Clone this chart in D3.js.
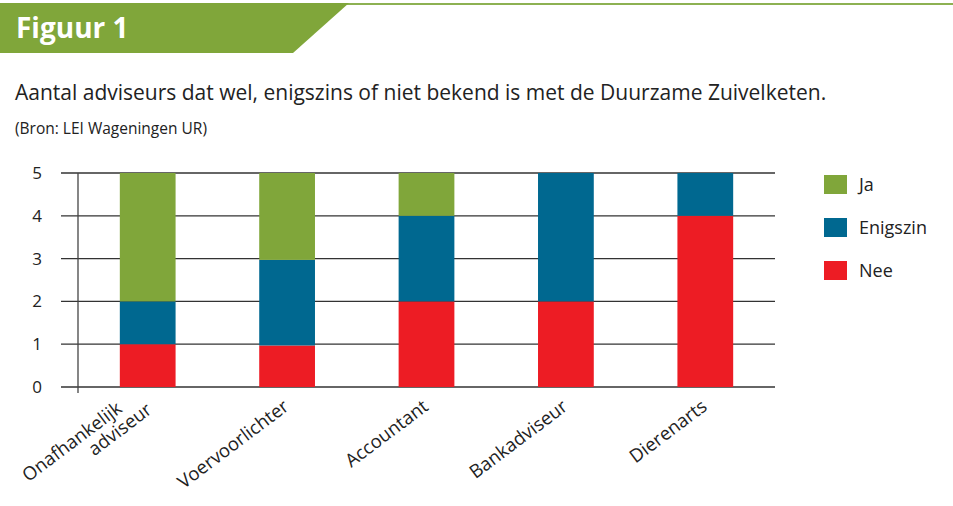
<!DOCTYPE html>
<html><head><meta charset="utf-8">
<script src="https://cdn.jsdelivr.net/npm/d3@7"></script>
<style>body{margin:0;background:#fff}svg{display:block}</style>
</head><body>
<svg id="c" width="953" height="506"></svg>
<script>
const categories = [["Onafhankelijk", "adviseur"], ["Voervoorlichter"], ["Accountant"], ["Bankadviseur"], ["Dierenarts"]];
const nee = [1, 0.97, 2, 2, 4];
const enigszin = [1, 2, 2, 3, 1];
const ja = [3, 2.03, 1, 0, 0];
const seriesNames = ["Nee", "Enigszin", "Ja"];
const legendOrder = ["Ja", "Enigszin", "Nee"];
const yTicks = [0, 1, 2, 3, 4, 5];
const colors = {Nee: "#ED1C24", Enigszin: "#006890", Ja: "#80A63A"};
const font = "'Open Sans', sans-serif";

const svg = d3.select("#c");
// banner
svg.append("line").attr("x1", 340).attr("x2", 953).attr("y1", 4).attr("y2", 4)
  .attr("stroke", "#8DB152").attr("stroke-width", 2);
svg.append("path").attr("d", "M0,3 L349,3 L293,53 L0,53 Z").attr("fill", "#80A63A");
svg.append("text").attr("x", 16).attr("y", 38).text("Figuur 1")
  .attr("font-family", font).attr("font-weight", "bold").attr("font-size", 28).attr("fill", "#fff");
svg.append("text").attr("x", 15).attr("y", 100)
  .text("Aantal adviseurs dat wel, enigszins of niet bekend is met de Duurzame Zuivelketen.")
  .attr("font-family", font).attr("font-size", 21).attr("fill", "#222");
svg.append("text").attr("x", 15).attr("y", 134).text("(Bron: LEI Wageningen UR)")
  .attr("font-family", font).attr("font-size", 15.5).attr("fill", "#222");

const x = d3.scaleBand().domain(d3.range(categories.length)).range([78, 775]).paddingInner(0.6).paddingOuter(0.3);
const y = d3.scaleLinear().domain([0, 5]).range([387, 173]);

const rows = categories.map((c, i) => ({i, Nee: nee[i], Enigszin: enigszin[i], Ja: ja[i]}));
const stack = d3.stack().keys(seriesNames)(rows);

// grid
const g = svg.append("g");
g.selectAll("line.grid").data(yTicks).join("line")
  .attr("x1", 61).attr("x2", 775).attr("y1", d => y(d)).attr("y2", d => y(d))
  .attr("stroke", "#333").attr("stroke-width", 1.3);
g.selectAll("text.yt").data(yTicks).join("text")
  .attr("x", 42).attr("y", d => y(d) + 6).attr("text-anchor", "end").text(d => d)
  .attr("font-family", font).attr("font-size", 17).attr("fill", "#222");

// bars
stack.forEach(s => {
  svg.append("g").selectAll("rect").data(s).join("rect")
    .attr("x", d => x(d.data.i)).attr("width", x.bandwidth())
    .attr("y", d => y(d[1])).attr("height", d => y(d[0]) - y(d[1]))
    .attr("fill", colors[s.key]);
});
// y axis line
svg.append("line").attr("x1", 78).attr("x2", 78).attr("y1", 173).attr("y2", 393)
  .attr("stroke", "#444").attr("stroke-width", 1.3);

// x labels
categories.forEach((lines, i) => {
  const cx = x(i) + x.bandwidth() / 2;
  const t = svg.append("text")
    .attr("transform", `translate(${cx + 3},${409}) rotate(-37)`)
    .attr("text-anchor", "end").attr("font-family", font).attr("font-size", 18.5).attr("fill", "#222");
  lines.forEach((l, k) => {
    t.append("tspan").attr("x", 0)
      .attr("dx", lines.length > 1 && k === 0 ? -23 : 0)
      .attr("dy", k === 0 ? (lines.length > 1 ? -15 : 0) : 19).text(l);
  });
});

// legend
legendOrder.forEach((n, k) => {
  const ly = 175 + k * 43;
  svg.append("rect").attr("x", 824).attr("y", ly).attr("width", 23).attr("height", 19).attr("fill", colors[n]);
  svg.append("text").attr("x", 859).attr("y", ly + 16).text(n)
    .attr("font-family", font).attr("font-size", 18).attr("fill", "#222");
});
</script>
</body></html>
